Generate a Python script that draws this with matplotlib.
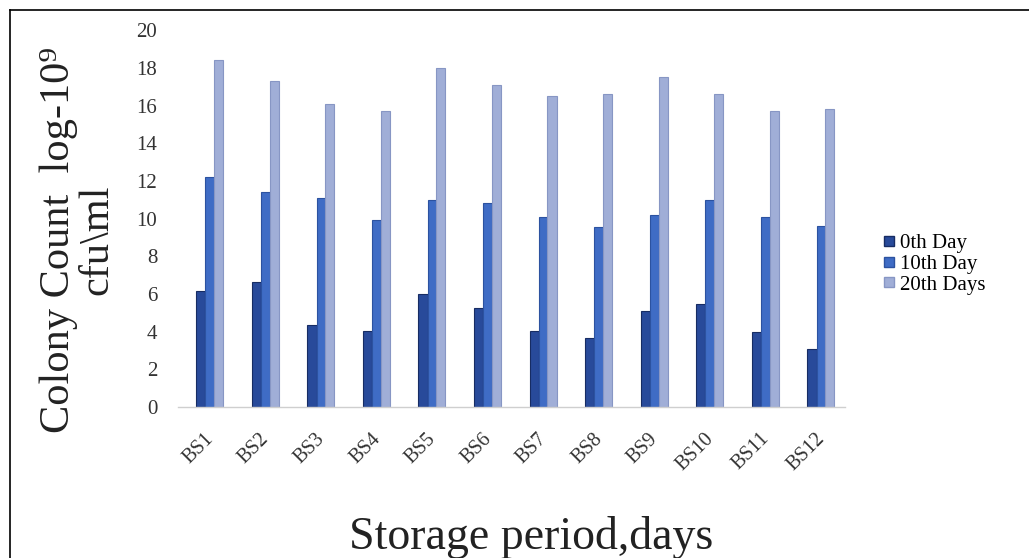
import matplotlib
matplotlib.use("Agg")
import matplotlib.pyplot as plt
import numpy as np
from matplotlib.lines import Line2D
import matplotlib.transforms as mtransforms

categories = ["BS1", "BS2", "BS3", "BS4", "BS5", "BS6", "BS7", "BS8", "BS9", "BS10", "BS11", "BS12"]
day0 = [6.15, 6.65, 4.35, 4.05, 5.98, 5.27, 4.05, 3.65, 5.1, 5.45, 4.0, 3.1]
day10 = [12.2, 11.4, 11.1, 9.9, 11.0, 10.8, 10.1, 9.55, 10.2, 11.0, 10.1, 9.6]
day20 = [18.4, 17.3, 16.1, 15.7, 18.0, 17.1, 16.5, 16.6, 17.5, 16.6, 15.7, 15.8]
series_names = ["0th Day", "10th Day", "20th Days"]
yticks = list(range(0, 21, 2))

colors = ["#284a9a", "#3f6cc5", "#a0aed7"]
edges = ["#172c63", "#2c52a0", "#8796c4"]

plt.rcParams['font.family'] = ['Liberation Serif', 'DejaVu Serif']

fig = plt.figure(figsize=(10.29, 5.58), dpi=100)
ax = fig.add_axes([0.173, 0.2706, 0.648, 0.6754])

x = np.arange(len(categories))
w = 0.165
offs = [-0.165, 0.0, 0.155]
for vals, off, c, ec, name in zip([day0, day10, day20], offs, colors, edges, series_names):
    ax.bar(x + off, vals, width=w, color=c, edgecolor=ec, linewidth=0.8, label=name, zorder=2)

ax.set_xlim(-0.575, 11.425)
ax.set_ylim(0, 20)
ax.set_yticks(yticks)
ax.set_yticklabels([str(t) for t in yticks], fontsize=15, color="#333333")
ax.set_xticks(x)
ax.set_xticklabels(categories, rotation=45, ha="right", rotation_mode="anchor", fontsize=14.5, color="#333333")
ax.tick_params(axis="both", length=0)
ax.tick_params(axis="y", pad=15)
ax.tick_params(axis="x", pad=16)
shift = mtransforms.ScaledTranslation(-6 / 100, 0, fig.dpi_scale_trans)
for lab in ax.get_xticklabels():
    lab.set_transform(lab.get_transform() + shift)
for s in ["top", "right", "left"]:
    ax.spines[s].set_visible(False)
ax.spines["bottom"].set_color("#cfcfcf")
ax.spines["bottom"].set_linewidth(1.0)

handles = [Line2D([0], [0], marker="s", linestyle="none", markersize=6.5,
                  markerfacecolor=c, markeredgecolor=ec) for c, ec in zip(colors, edges)]
fig.legend(handles, series_names, loc="upper left", bbox_to_anchor=(0.848, 0.596),
           frameon=False, fontsize=15, handletextpad=0.1, labelspacing=0.05,
           handlelength=0.8, borderaxespad=0)

fig.text(0.076, 0.57, "Colony Count  log-10\u2079\ncfu\\ml", rotation=90, ha="center", va="center",
         multialignment="center", linespacing=1.0, fontsize=30.5, color="#222222")
fig.text(0.516, 0.037, "Storage period,days", ha="center", va="center",
         fontsize=33, color="#222222")

# frame
fig.add_artist(Line2D([0.0097, 0.0097], [0.0, 0.982], transform=fig.transFigure, color="black", lw=1.2))
fig.add_artist(Line2D([0.0097, 1.0], [0.982, 0.982], transform=fig.transFigure, color="black", lw=1.2))

fig.savefig("out.png", dpi=100)
